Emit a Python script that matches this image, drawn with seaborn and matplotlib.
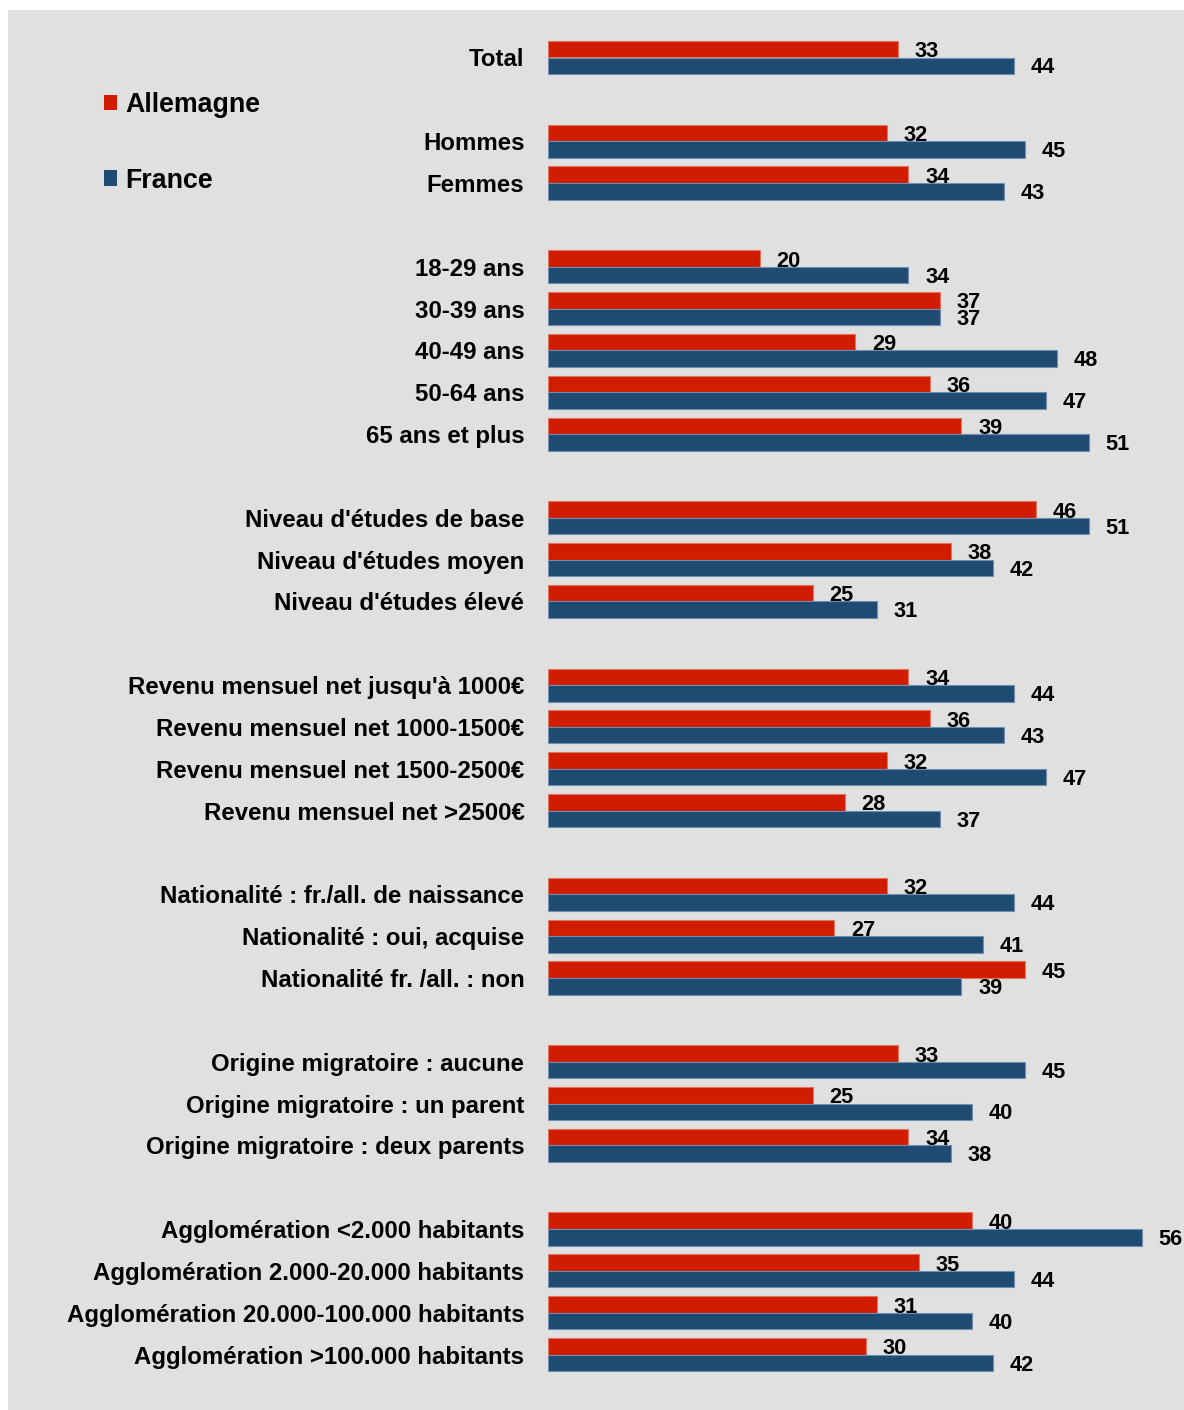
import matplotlib
matplotlib.use("Agg")
import matplotlib.pyplot as plt
import seaborn as sns
import pandas as pd
from matplotlib.patches import Rectangle, Patch

# Survey results by population segment (in %)
categories = [
    "Total",
    "Hommes", "Femmes",
    "18-29 ans", "30-39 ans", "40-49 ans", "50-64 ans", "65 ans et plus",
    "Niveau d'études de base", "Niveau d'études moyen", "Niveau d'études élevé",
    "Revenu mensuel net jusqu'à 1000€", "Revenu mensuel net 1000-1500€",
    "Revenu mensuel net 1500-2500€", "Revenu mensuel net >2500€",
    "Nationalité : fr./all. de naissance", "Nationalité : oui, acquise",
    "Nationalité fr. /all. : non",
    "Origine migratoire : aucune", "Origine migratoire : un parent",
    "Origine migratoire : deux parents",
    "Agglomération <2.000 habitants", "Agglomération 2.000-20.000 habitants",
    "Agglomération 20.000-100.000 habitants", "Agglomération >100.000 habitants",
]
group_sizes = [1, 2, 5, 3, 4, 3, 3, 4]
allemagne = [33, 32, 34, 20, 37, 29, 36, 39, 46, 38, 25, 34, 36, 32, 28,
             32, 27, 45, 33, 25, 34, 40, 35, 31, 30]
france = [44, 45, 43, 34, 37, 48, 47, 51, 51, 42, 31, 44, 43, 47, 37,
          44, 41, 39, 45, 40, 38, 56, 44, 40, 42]
countries = ["Allemagne", "France"]
colors = ["#D01C00", "#1F4A72"]
edge_colors = ["#E2735F", "#6F8FB0"]

# Row order with an empty row between groups
order = []
idx = 0
for g, size in enumerate(group_sizes):
    if g > 0:
        order.append(" " * g)
    order.extend(categories[idx:idx + size])
    idx += size

df = pd.DataFrame({
    "categorie": categories * 2,
    "pays": ["Allemagne"] * len(categories) + ["France"] * len(categories),
    "valeur": allemagne + france,
})

sns.set_style("white")
plt.rcParams["font.family"] = ["Liberation Sans", "DejaVu Sans"]

W, H = 1184, 1410
fig = plt.figure(figsize=(W / 100, H / 100), dpi=100)
fig.patch.set_facecolor("white")
fig.patches.append(Rectangle((8 / W, 0), 1 - 8 / W, 1 - 10 / H,
                             transform=fig.transFigure, facecolor="#E0E0E0",
                             edgecolor="none", zorder=-10))

ax = fig.add_axes([548 / W, 0, 1 - 548 / W, 1 - 10 / H])
ax.set_facecolor("none")

sns.barplot(data=df, y="categorie", x="valeur", hue="pays", order=order,
            hue_order=countries, palette=colors, width=0.79, orient="h",
            saturation=1, legend=False, ax=ax)

label_dy = [-1.9, -1.6]
for cont, ec, dy in zip(ax.containers, edge_colors, label_dy):
    for bar in cont:
        bar.set_edgecolor(ec)
        bar.set_linewidth(0.8)
    anns = ax.bar_label(cont, fmt="%d", padding=12, fontsize=15.7,
                        fontweight="bold", color="black")
    for a in anns:
        a.xyann = (12, dy)

step = 41.84
ax.set_xlim(0, 60)
ax.set_ylim((H - 57.5) / step, -47.5 / step)
ax.set_xlabel("")
ax.set_ylabel("")
ax.set_xticks([])
ax.tick_params(axis="y", length=0, pad=17, labelsize=17.3, labelcolor="black")
for lab in ax.get_yticklabels():
    lab.set_fontweight("bold")
for s in ax.spines.values():
    s.set_visible(False)

handles = [Patch(facecolor=c, edgecolor="none") for c in colors]
leg = fig.legend(handles, countries, loc="upper left",
                 bbox_to_anchor=(104 / W, 1 - 92 / H), frameon=False,
                 prop={"size": 19.3, "weight": "bold"}, handlelength=0.5,
                 handleheight=0.5, handletextpad=0.3, labelspacing=1.85,
                 borderpad=0, borderaxespad=0)
for t in leg.get_texts():
    t.set_color("black")

fig.savefig("out.png", dpi=100)
